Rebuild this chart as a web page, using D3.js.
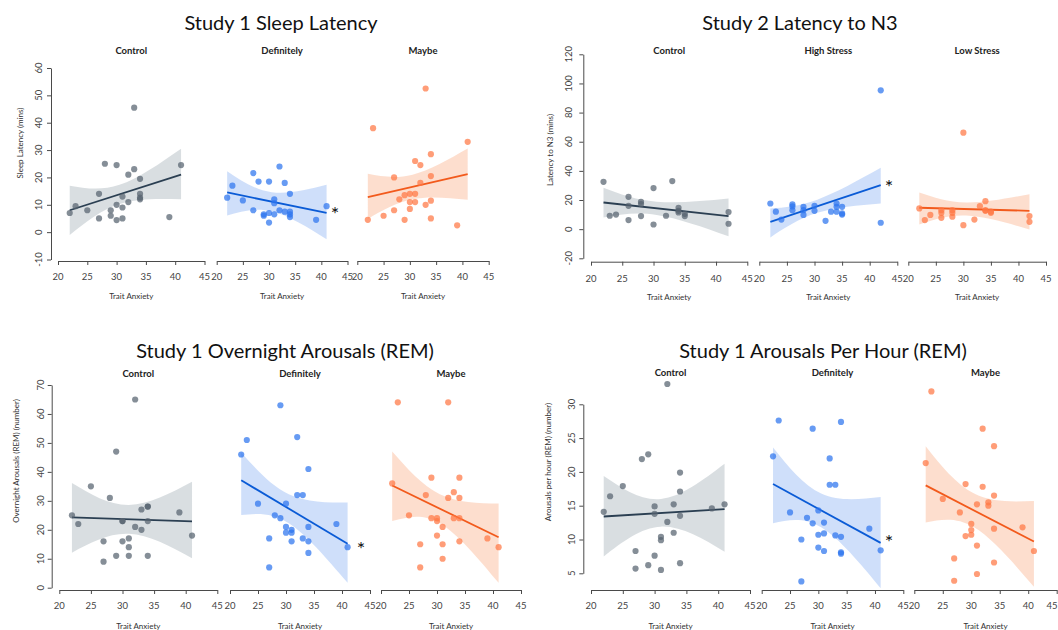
<!DOCTYPE html>
<html><head><meta charset="utf-8">
<script src="https://cdn.jsdelivr.net/npm/d3@7"></script>
<style>body{margin:0;background:#fff}svg{display:block}text{font-family:Lato,"Open Sans",sans-serif}</style>
</head><body><svg id="c" width="1058" height="630"></svg>
<script>
// ---------- DATA ----------
const xTicks = [20, 25, 30, 35, 40, 45];
const xTitle = "Trait Anxiety";

// Panel 1: Study 1 Sleep Latency
const p1Title = "Study 1 Sleep Latency";
const p1YLabel = "Sleep Latency (mins)";
const p1YTicks = [-10, 0, 10, 20, 30, 40, 50, 60];
const p1Facets = ["Control", "Definitely", "Maybe"];
const p1CtrlX = [22,23,25,27,27,28,29,29,30,30,30,31,31,31,32,32,33,33,34,34,34,34,39,41];
const p1CtrlY = [7,9.5,8,14,5,25,8,6,24.5,10,4.4,13,9,5,21,11,23,45.5,19.5,14,12.6,12,5.5,24.5];
const p1CtrlFit = [8, 21];
const p1CtrlBandX = [22, 30.5, 41], p1CtrlLo = [-1, 10.3, 12], p1CtrlHi = [17, 17.3, 30.5];
const p1DefX = [22,23,25,27,27,28,29,29,30,30,30,31,31,31,32,32,33,33,34,34,34,34,39,41];
const p1DefY = [12.6,17,11.6,21.6,8,18.5,6.5,6,18.5,7,3.5,12,10.6,6.5,24,8,18,7.5,14,7.5,6.5,5.5,4.5,9.5];
const p1DefFit = [14.5, 7];
const p1DefBandX = [22, 30.5, 41], p1DefLo = [6.1, 7.6, -2.6], p1DefHi = [22.3, 14.6, 17.3];
const p1MayX = [22,23,25,27,27,28,29,29,30,30,30,31,31,31,32,32,33,33,34,34,34,34,39,41];
const p1MayY = [4.5,38,6,8,20,12,4.5,13.5,14,11,8.5,26,14,11,24.5,18,52.5,10,28.5,20.5,11.5,5,2.5,33];
const p1MayFit = [12.8, 21.2];
const p1MayBandX = [22, 30.5, 41], p1MayLo = [4.8, 12, 11.8], p1MayHi = [21.3, 21, 30.6];

// Panel 2: Study 2 Latency to N3
const p2Title = "Study 2 Latency to N3";
const p2YLabel = "Latency to N3 (mins)";
const p2YTicks = [-20, 0, 20, 40, 60, 80, 100, 120];
const p2Facets = ["Control", "High Stress", "Low Stress"];
const p2CtrlX = [22,23,24,26,26,26,28,28,28,30,30,32,33,34,34,34,35,35,42,42];
const p2CtrlY = [32.5,9.2,10,22.2,16,6.2,18.8,17.2,9,28.2,3.2,9.2,33,14.7,12.6,11.5,10.5,9,11.7,3.7];
const p2CtrlFit = [18.3, 9];
const p2CtrlBandX = [22, 30.5, 42], p2CtrlLo = [8, 9.8, -4.8], p2CtrlHi = [28.4, 18.8, 21];
const p2HighX = [22,23,24,26,26,26,28,28,28,30,30,32,33,34,34,34,35,35,35,42,42];
const p2HighY = [17.6,12,6.6,17,15.6,13,15.3,13,9.8,16,12.6,5.7,12,17.6,15.3,12,15.3,10.8,10,95.3,4.4];
const p2HighFit = [5, 30.2];
const p2HighBandX = [22, 30.5, 42], p2HighLo = [-5.7, 11.2, 17.6], p2HighHi = [14.2, 20.2, 42.1];
const p2LowX = [22,23,24,26,26,26,28,28,28,30,30,32,33,34,34,34,35,35,42,42];
const p2LowY = [14.2,6.2,9.8,13,11.2,7.8,13,11.2,8.5,66.2,2.7,6.6,15.8,19.2,13,12.6,12,11.2,9,5];
const p2LowFit = [14.7, 12.6];
const p2LowBandX = [22, 30.5, 42], p2LowLo = [3.2, 9.3, -0.2], p2LowHi = [25.2, 18.3, 24];

// Panel 3: Study 1 Overnight Arousals (REM)
const p3Title = "Study 1 Overnight Arousals (REM)";
const p3YLabel = "Overnight Arousals (REM) (number)";
const p3YTicks = [0, 10, 20, 30, 40, 50, 60, 70];
const p3Facets = ["Control", "Definitely", "Maybe"];
const p3CtrlX = [22,23,25,27,27,28,29,29,30,30,30,31,31,31,32,32,33,33,34,34,34,34,39,41];
const p3CtrlY = [25,22,35,16,9,31,47,11,23,23,16,17,14,11,65,21,27,20,28,28,23,11,26,18];
const p3CtrlFit = [24.3, 22.9];
const p3CtrlBandX = [22, 31, 41], p3CtrlLo = [12.1, 18.6, 10.2], p3CtrlHi = [36.2, 28.6, 36.6];
const p3DefX = [22,23,25,27,27,28,29,29,30,30,30,31,31,31,32,32,33,33,34,34,34,34,39,41];
const p3DefY = [46,51,29,17,7,25,24,63,29,21,19,20,19,16,32,52,32,17,41,21,16,12,22,14];
const p3DefFit = [37.1, 15.2];
const p3DefBandX = [22, 30.5, 41], p3DefLo = [25.1, 22.3, 1.7], p3DefHi = [46.7, 32.3, 29.4];
const p3MayX = [22,23,25,27,27,28,29,29,30,30,30,31,31,31,32,32,33,33,34,34,34,34,39,41];
const p3MayY = [36,64,25,15,7,32,38,24,24,23,18,21,15,10,31,64,33,24,38,31,24,16,17,14];
const p3MayFit = [35.3, 17.4];
const p3MayBandX = [22, 30.5, 41], p3MayLo = [23, 22.3, 1.7], p3MayHi = [47, 32.3, 29.1];

// Panel 4: Study 1 Arousals Per Hour (REM)
const p4Title = "Study 1 Arousals Per Hour (REM)";
const p4YLabel = "Arousals per hour (REM) (number)";
const p4YTicks = [5, 10, 15, 20, 25, 30];
const p4Facets = ["Control", "Definitely", "Maybe"];
const p4CtrlX = [22,23,25,27,27,28,29,29,30,30,30,31,31,31,32,32,33,33,34,34,34,34,39,41];
const p4CtrlY = [14.1,16.4,17.9,8.3,5.7,21.9,22.6,6.2,14.9,13.8,7.6,10.4,9.9,5.5,33,12.6,15.2,11,19.9,17.1,13.5,6.5,14.6,15.2];
const p4CtrlFit = [13.4, 14.5];
const p4CtrlBandX = [22, 31, 41], p4CtrlLo = [7.5, 11.9, 8.2], p4CtrlHi = [19.4, 16, 21.2];
const p4DefX = [22,23,25,27,27,28,29,29,30,30,30,31,31,31,32,32,33,33,34,34,34,34,39,41];
const p4DefY = [22.3,27.6,14,10,3.8,13.2,12.4,26.4,14.3,10.7,8.8,12.5,10.9,8.3,22,18.1,18.1,10.6,27.4,10.4,8.1,7.9,11.6,8.4];
const p4DefFit = [18.2, 9.5];
const p4DefBandX = [22, 30.5, 41], p4DefLo = [12.4, 11.8, 2.8], p4DefHi = [23.6, 16.8, 16.3];
const p4MayX = [22,23,25,27,27,28,29,29,30,30,30,31,31,31,32,32,33,33,34,34,34,34,39,41];
const p4MayY = [21.3,31.9,16,7.2,3.9,14,18.2,10.5,12.3,11.4,10.7,15.2,9.1,4.9,26.4,17.8,15.5,15,23.8,16.5,11.6,6.6,11.8,8.3];
const p4MayFit = [18, 9.7];
const p4MayBandX = [22, 30.5, 41], p4MayLo = [12.5, 11.8, 3], p4MayHi = [23.8, 16.8, 15.7];

// ---------- STYLE / LAYOUT ----------
const COLORS = {
  gray:   {pt: "#56636f", line: "#2b3f52", band: "#d5dade"},
  blue:   {pt: "#2c74ef", line: "#0a5bd6", band: "#cadcfa"},
  orange: {pt: "#ff7744", line: "#f25a1c", band: "#fddac9"}
};

function fac(name, px, col, x, y, fit, fitX, bx, lo, hi) {
  return {name, px, col, x, y, fit, fitX, bx, lo, hi};
}

const panels = [
  {title: p1Title, titleX: 281, titleY: 22, yLabel: p1YLabel, yLabelPos: [20, 143],
   yTicks: p1YTicks, yPix: [259.5, 68], yAxisX: 51, yTickLabelX: 38, xAxisY: 261, xTickY: 276, xTitleY: 296, facetTitleY: 50,
   star: [335, 213],
   facets: [
     fac(p1Facets[0], [58, 204.5], "gray", p1CtrlX, p1CtrlY, p1CtrlFit, [22, 41], p1CtrlBandX, p1CtrlLo, p1CtrlHi),
     fac(p1Facets[1], [216.7, 347.5], "blue", p1DefX, p1DefY, p1DefFit, [22, 41], p1DefBandX, p1DefLo, p1DefHi),
     fac(p1Facets[2], [357.3, 488.7], "orange", p1MayX, p1MayY, p1MayFit, [22, 41], p1MayBandX, p1MayLo, p1MayHi)
   ]},
  {title: p2Title, titleX: 800, titleY: 22, yLabel: p2YLabel, yLabelPos: [550, 150],
   yTicks: p2YTicks, yPix: [258.3, 54.3], yAxisX: 583.3, yTickLabelX: 568, xAxisY: 261.7, xTickY: 278, xTitleY: 297, facetTitleY: 50,
   star: [889, 186],
   facets: [
     fac(p2Facets[0], [591, 747.3], "gray", p2CtrlX, p2CtrlY, p2CtrlFit, [22, 42], p2CtrlBandX, p2CtrlLo, p2CtrlHi),
     fac(p2Facets[1], [759.3, 897.3], "blue", p2HighX, p2HighY, p2HighFit, [22, 42], p2HighBandX, p2HighLo, p2HighHi),
     fac(p2Facets[2], [908.3, 1046], "orange", p2LowX, p2LowY, p2LowFit, [22, 42], p2LowBandX, p2LowLo, p2LowHi)
   ]},
  {title: p3Title, titleX: 285, titleY: 350, yLabel: p3YLabel, yLabelPos: [16, 461],
   yTicks: p3YTicks, yPix: [587.7, 385], yAxisX: 51.7, yTickLabelX: 40, xAxisY: 590, xTickY: 605, xTitleY: 626, facetTitleY: 373,
   star: [361, 548],
   facets: [
     fac(p3Facets[0], [59.3, 217.3], "gray", p3CtrlX, p3CtrlY, p3CtrlFit, [22, 41], p3CtrlBandX, p3CtrlLo, p3CtrlHi),
     fac(p3Facets[1], [230, 370], "blue", p3DefX, p3DefY, p3DefFit, [22, 41], p3DefBandX, p3DefLo, p3DefHi),
     fac(p3Facets[2], [381, 521], "orange", p3MayX, p3MayY, p3MayFit, [22, 41], p3MayBandX, p3MayLo, p3MayHi)
   ]},
  {title: p4Title, titleX: 823, titleY: 350, yLabel: p4YLabel, yLabelPos: [548, 462],
   yTicks: p4YTicks, yPix: [573.3, 404.3], yAxisX: 583.3, yTickLabelX: 571, xAxisY: 590, xTickY: 605, xTitleY: 626, facetTitleY: 372,
   star: [889, 541],
   facets: [
     fac(p4Facets[0], [591, 750], "gray", p4CtrlX, p4CtrlY, p4CtrlFit, [22, 41], p4CtrlBandX, p4CtrlLo, p4CtrlHi),
     fac(p4Facets[1], [761.7, 903.3], "blue", p4DefX, p4DefY, p4DefFit, [22, 41], p4DefBandX, p4DefLo, p4DefHi),
     fac(p4Facets[2], [914.3, 1056.7], "orange", p4MayX, p4MayY, p4MayFit, [22, 41], p4MayBandX, p4MayLo, p4MayHi)
   ]}
];

const W = 1058;
const svg = d3.select("#c");
const AX = "#4a4a4a";

panels.forEach(P => {
  const g = svg.append("g");
  const y = d3.scaleLinear().domain([P.yTicks[0], P.yTicks[P.yTicks.length - 1]]).range(P.yPix);

  g.append("text").attr("x", P.titleX).attr("y", P.titleY).attr("text-anchor", "middle")
    .attr("dominant-baseline", "central").attr("font-size", 20).attr("fill", "#111").text(P.title);

  const yAx = g.append("g").attr("transform", `translate(${P.yAxisX},0)`)
    .call(d3.axisLeft(y).tickValues(P.yTicks).tickSize(4).tickSizeOuter(0));
  yAx.select(".domain").attr("stroke", AX);
  yAx.selectAll(".tick line").attr("stroke", AX);
  yAx.selectAll(".tick text").remove();
  P.yTicks.forEach(t => {
    g.append("text").attr("transform", `translate(${P.yTickLabelX},${y(t)}) rotate(-90)`)
      .attr("text-anchor", "middle").attr("dominant-baseline", "central")
      .attr("font-size", 9.5).attr("fill", "#444").text(t);
  });
  g.append("text").attr("transform", `translate(${P.yLabelPos[0]},${P.yLabelPos[1]}) rotate(-90)`)
    .attr("text-anchor", "middle").attr("dominant-baseline", "central")
    .attr("font-size", 8).attr("fill", "#333").text(P.yLabel);

  P.facets.forEach(F => {
    const x = d3.scaleLinear().domain([xTicks[0], xTicks[xTicks.length - 1]]).range(F.px);
    const c = COLORS[F.col];
    const cx = (F.px[0] + F.px[1]) / 2;

    g.append("text").attr("x", cx).attr("y", P.facetTitleY).attr("text-anchor", "middle")
      .attr("dominant-baseline", "central").attr("font-size", 9.5).attr("font-weight", "bold")
      .attr("fill", "#222").text(F.name);

    const xAx = g.append("g").attr("transform", `translate(0,${P.xAxisY})`)
      .call(d3.axisBottom(x).tickValues(xTicks).tickSize(4).tickSizeOuter(0));
    xAx.select(".domain").attr("stroke", AX);
    xAx.selectAll(".tick line").attr("stroke", AX);
    xAx.selectAll(".tick text").remove();
    xTicks.forEach(t => {
      const px = x(t);
      const nearEdge = px + 5 > W;
      g.append("text").attr("x", nearEdge ? W - 0.5 : px).attr("y", P.xTickY)
        .attr("text-anchor", nearEdge ? "end" : "middle")
        .attr("dominant-baseline", "central").attr("font-size", 9.5).attr("fill", "#444").text(t);
    });
    g.append("text").attr("x", cx).attr("y", P.xTitleY).attr("text-anchor", "middle")
      .attr("dominant-baseline", "central").attr("font-size", 8).attr("fill", "#333").text(xTitle);

    const band = F.bx.map((v, k) => ({x: v, lo: F.lo[k], hi: F.hi[k]}));
    g.append("path").datum(band)
      .attr("d", d3.area().curve(d3.curveNatural).x(d => x(d.x)).y0(d => y(d.lo)).y1(d => y(d.hi)))
      .attr("fill", c.band).attr("opacity", 0.9);

    const fitPts = F.fitX.map((v, k) => ({x: v, y: F.fit[k]}));
    g.append("path").datum(fitPts)
      .attr("d", d3.line().x(d => x(d.x)).y(d => y(d.y)))
      .attr("stroke", c.line).attr("stroke-width", 1.8).attr("fill", "none");

    const pts = F.x.map((v, k) => ({x: v, y: F.y[k]}));
    g.append("g").selectAll("circle").data(pts).join("circle")
      .attr("cx", d => x(d.x)).attr("cy", d => y(d.y)).attr("r", 3.1)
      .attr("fill", c.pt).attr("fill-opacity", 0.72);
  });

  g.append("text").attr("x", P.star[0]).attr("y", P.star[1]).attr("text-anchor", "middle")
    .attr("dominant-baseline", "central").attr("font-size", 20)
    .attr("font-family", "DejaVu Sans").attr("fill", "#111").text("*");
});
</script></body></html>
